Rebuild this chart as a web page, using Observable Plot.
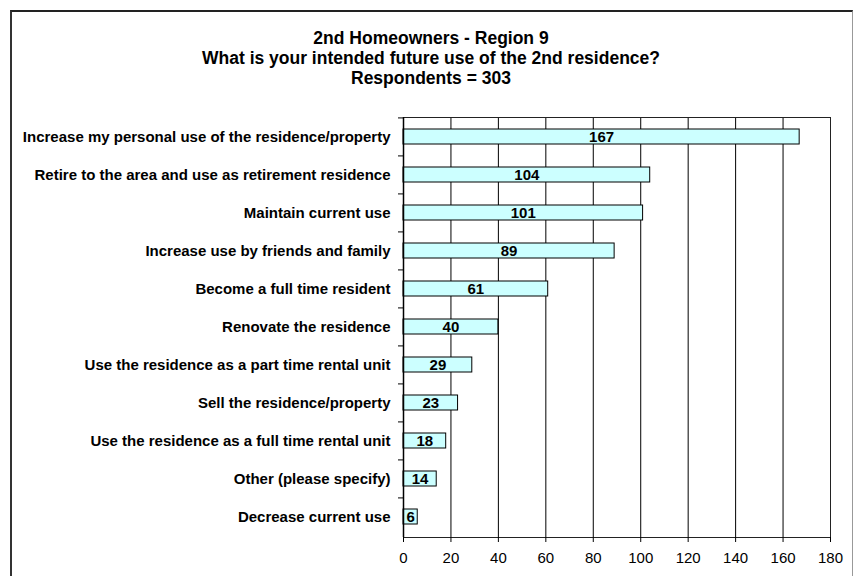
<!DOCTYPE html>
<html>
<head>
<meta charset="utf-8">
<script src="https://cdn.jsdelivr.net/npm/d3@7"></script>
<script src="https://cdn.jsdelivr.net/npm/@observablehq/plot@0.6"></script>
<style>
  html, body { margin: 0; padding: 0; background: #fff; }
  #wrap { position: relative; width: 854px; height: 576px; overflow: hidden; font-family: "Liberation Sans", Arial, sans-serif; }
  #border { position: absolute; left: 10px; top: 10px; width: 840px; height: 600px; border-left: 2px solid #333; border-top: 2px solid #222; border-right: 1px solid #999; }
  #title { position: absolute; left: 10px; width: 842px; top: 28px; text-align: center; font-weight: bold; font-size: 17.5px; line-height: 20px; color: #000; }
  #chart { position: absolute; left: 0; top: 0; }
</style>
</head>
<body>
<div id="wrap">
  <div id="border"></div>
  <div id="chart"></div>
  <div id="title"></div>
</div>
<script>
const titleLines = [
  "2nd Homeowners - Region 9",
  "What is your intended future use of the 2nd residence?",
  "Respondents = 303"
];
const categories = [
  "Increase my personal use of the residence/property",
  "Retire to the area and use as retirement residence",
  "Maintain current use",
  "Increase use by friends and family",
  "Become a full time resident",
  "Renovate the residence",
  "Use the residence as a part time rental unit",
  "Sell the residence/property",
  "Use the residence as a full time rental unit",
  "Other (please specify)",
  "Decrease current use"
];
const values = [167, 104, 101, 89, 61, 40, 29, 23, 18, 14, 6];
const xTicks = [0, 20, 40, 60, 80, 100, 120, 140, 160, 180];

document.getElementById("title").innerHTML = titleLines.join("<br>");

const data = categories.map((c, i) => ({label: c, value: values[i]}));

const W = 854, H = 576, mL = 403, mR = 24, mT = 117, mB = 39;
const step = (H - mT - mB) / categories.length;

const chart = Plot.plot({
  width: W,
  height: H,
  marginLeft: mL,
  marginRight: mR,
  marginTop: mT,
  marginBottom: mB,
  style: {fontFamily: '"Liberation Sans", Arial, sans-serif', color: "#000", background: "transparent", overflow: "visible"},
  x: {domain: [0, 180], ticks: xTicks},
  y: {domain: categories, paddingInner: 0.6, paddingOuter: 0.3},
  marks: [
    Plot.gridX(xTicks.slice(1, -1), {stroke: "#000", strokeOpacity: 1, strokeWidth: 1}),
    Plot.frame({stroke: "#222", strokeWidth: 1}),
    Plot.barX(data, {x: "value", y: "label", fill: "#CCFFFF", stroke: "#000", strokeWidth: 1}),
    Plot.text(data, {x: d => d.value / 2, y: "label", text: d => String(d.value), fontWeight: "bold", fontSize: 15, fill: "#000"}),
    Plot.ruleX([0], {stroke: "#000", strokeWidth: 1.5}),
    Plot.ruleY([0], {frameAnchor: "bottom", stroke: "#000", strokeWidth: 1.5}),
    Plot.axisX({ticks: xTicks, tickSize: 5, tickPadding: 10, fontSize: 15, fontWeight: "normal", stroke: "#000", strokeOpacity: 1, label: null}),
    Plot.axisY({tickSize: 0, tickPadding: 13, fontSize: 15, fontWeight: "bold", label: null}),
    Plot.axisY({tickSize: 5, tickFormat: () => "", dy: -step / 2, stroke: "#000", strokeOpacity: 1, label: null})
  ]
});
document.getElementById("chart").appendChild(chart);
</script>
</body>
</html>
